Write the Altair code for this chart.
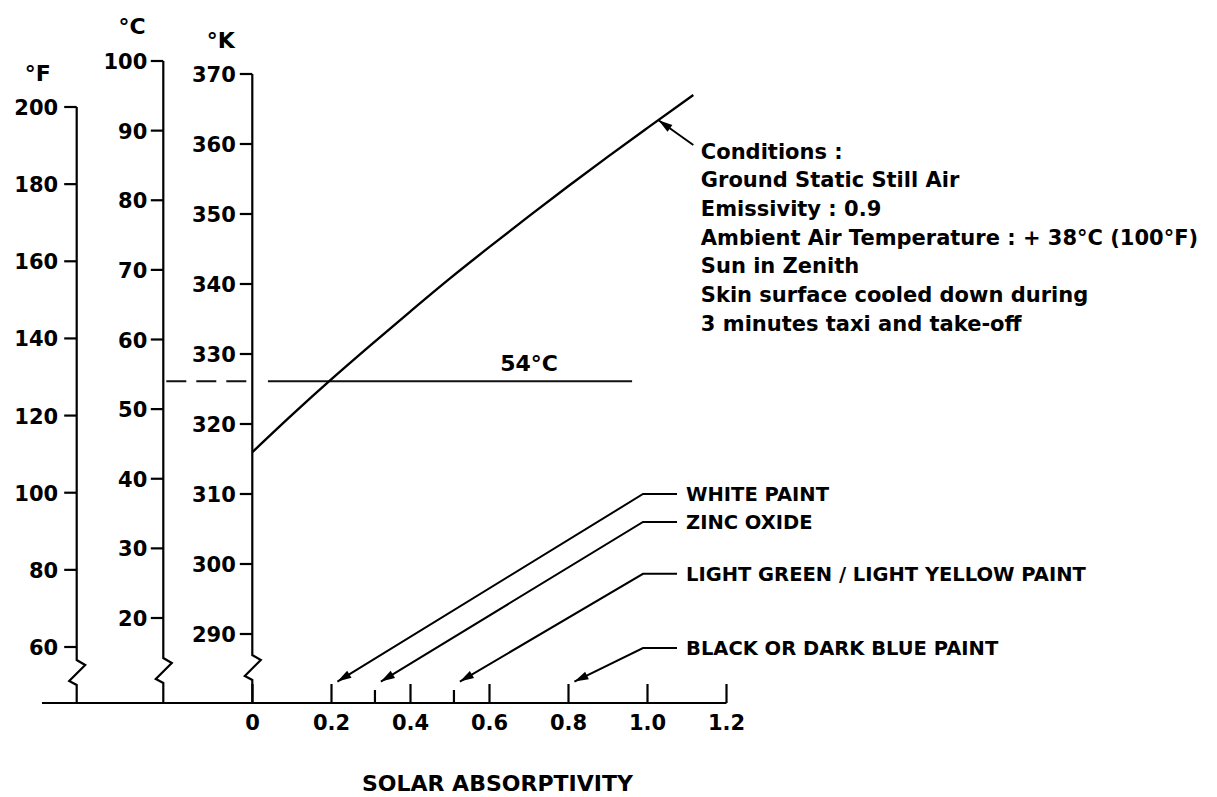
import math
import altair as alt
import pandas as pd

# ---------------- data ----------------
ABSORPTIVITY = [0.0, 0.1, 0.2, 0.3, 0.4, 0.5, 0.6, 0.7, 0.8, 0.9, 1.0, 1.116]
SKIN_TEMP_K = [316.0, 321.3, 326.4, 331.3, 336.1, 340.8, 345.3, 349.7, 354.0, 358.2, 362.3, 367.0]

F_TICKS = [60, 80, 100, 120, 140, 160, 180, 200]
C_TICKS = [20, 30, 40, 50, 60, 70, 80, 90, 100]
K_TICKS = [290, 300, 310, 320, 330, 340, 350, 360, 370]
X_TICKS = [0.0, 0.2, 0.4, 0.6, 0.8, 1.0, 1.2]
X_TICK_LABELS = ["0", "0.2", "0.4", "0.6", "0.8", "1.0", "1.2"]

LIMIT_C = 54
LIMIT_LABEL = "54°C"

PAINTS = ["WHITE PAINT", "ZINC OXIDE", "LIGHT GREEN / LIGHT YELLOW PAINT",
          "BLACK OR DARK BLUE PAINT"]
PAINT_ABSORPTIVITY = [0.20, 0.31, 0.51, 0.80]
MINOR_TICKS = [0.31, 0.51]

CONDITIONS = [
    "Conditions :",
    "Ground Static Still Air",
    "Emissivity : 0.9",
    "Ambient Air Temperature : + 38°C (100°F)",
    "Sun in Zenith",
    "Skin surface cooled down during",
    "3 minutes taxi and take-off",
]
X_TITLE = "SOLAR ABSORPTIVITY"

# ---------------- layout / style ----------------
W, H = 1200, 789
FONT = "DejaVu Sans"
X_DOM, X_RNG = [0, 1.2], [244.5, 718.5]
F_DOM, F_RNG = [60, 200], [639, 99]
C_DOM, C_RNG = [20, 100], [610, 53]
K_DOM, K_RNG = [290, 370], [626, 66]
BASE_PX = 695          # pixel row of the absorptivity axis line
X_PX = (X_RNG[1] - X_RNG[0]) / (X_DOM[1] - X_DOM[0])


def px_to_val(px, dom, rng):
    return dom[0] + (px - rng[0]) * (dom[1] - dom[0]) / (rng[1] - rng[0])


def px_per_unit(dom, rng):
    return abs((rng[1] - rng[0]) / (dom[1] - dom[0]))


XS = alt.Scale(domain=X_DOM, range=X_RNG, nice=False, zero=False)


def xq(field):
    return alt.X(field, type="quantitative", scale=XS, axis=None)


def temp_axis(ticks, dom, rng, ax_px, brk_px, title, title_dx, title_dy, label_dx):
    ys = alt.Scale(domain=dom, range=rng, nice=False, zero=False)
    ypx = px_per_unit(dom, rng)
    ax = (ax_px - X_RNG[0]) / X_PX
    top = ticks[-1]
    brk = px_to_val(brk_px, dom, rng)
    base = px_to_val(BASE_PX, dom, rng)
    zig = [(0, 0), (8.5, 5), (-7.5, 21), (0, 25)]
    rows = [{"i": 0, "x": ax, "y": top}]
    for k, (dx, dy) in enumerate(zig):
        rows.append({"i": k + 1, "x": ax + dx / X_PX, "y": brk - dy / ypx})
    rows.append({"i": len(rows), "x": ax, "y": base})
    line = alt.Chart(pd.DataFrame(rows)).mark_line(
        color="black", strokeWidth=2.2, strokeJoin="miter"
    ).encode(x=xq("x"), y=alt.Y("y:Q", scale=ys, axis=None), order="i:Q")

    tdf = pd.DataFrame({"v": ticks, "ax": [ax] * len(ticks),
                        "lab": [str(t) for t in ticks]})
    tick = alt.Chart(tdf).mark_rule(color="black", strokeWidth=2.2, x2Offset=-12.5).encode(
        x=xq("ax"), x2="ax:Q", y=alt.Y("v:Q", scale=ys, axis=None))
    labels = alt.Chart(tdf).mark_text(
        align="right", baseline="middle", dx=label_dx, dy=2, font=FONT,
        fontWeight="bold", fontSize=21, color="black"
    ).encode(x=xq("ax"), y=alt.Y("v:Q", scale=ys, axis=None), text="lab:N")
    ttl = alt.Chart(pd.DataFrame({"ax": [ax], "v": [top], "t": [title]})).mark_text(
        align="center", baseline="middle", dx=title_dx, dy=title_dy, font=FONT,
        fontWeight="bold", fontSize=22, color="black"
    ).encode(x=xq("ax"), y=alt.Y("v:Q", scale=ys, axis=None), text="t:N")
    return [line, tick, labels, ttl], ys, ax


ARROW = "M0,0L-2,-0.6L-2,0.6Z"


def screen_angle(x0, y0, x1, y1, ypx):
    """angle (deg, clockwise) of direction from point 0 to point 1 on screen"""
    dx = (x1 - x0) * X_PX
    dy = -(y1 - y0) * ypx
    return math.degrees(math.atan2(dy, dx)) % 360


# ---------------- °F group ----------------
f_layers, FS, F_AX = temp_axis(F_TICKS, F_DOM, F_RNG, 68.7, 652, "°F", -39, -33, -18.5)
f_group = alt.layer(*f_layers)

# ---------------- °C group ----------------
c_layers, CS, C_AX = temp_axis(C_TICKS, C_DOM, C_RNG, 155.3, 650, "°C", -31.3, -34.4, -16)
lim_df = pd.DataFrame({"x0": [0.039], "x1": [0.961], "y": [LIMIT_C]})
lim_dash_df = pd.DataFrame({"x0": [C_AX + 3 / X_PX], "x1": [-0.0114], "y": [LIMIT_C]})
lim_line = alt.Chart(lim_df).mark_rule(color="#111111", strokeWidth=2).encode(
    x=xq("x0"), x2="x1:Q", y=alt.Y("y:Q", scale=CS, axis=None))
lim_dash = alt.Chart(lim_dash_df).mark_rule(
    color="#111111", strokeWidth=2, strokeDash=[20, 10]).encode(
    x=xq("x0"), x2="x1:Q", y=alt.Y("y:Q", scale=CS, axis=None))
lim_text = alt.Chart(pd.DataFrame({"x": [0.70], "y": [LIMIT_C], "t": [LIMIT_LABEL]})).mark_text(
    align="center", baseline="alphabetic", dy=-10, font=FONT, fontWeight="bold",
    fontSize=22, color="black").encode(
    x=xq("x"), y=alt.Y("y:Q", scale=CS, axis=None), text="t:N")
c_group = alt.layer(*c_layers, lim_line, lim_dash, lim_text)

# ---------------- °K group (curve, absorptivity axis, annotations) ----------------
k_layers, KS, K_AX = temp_axis(K_TICKS, K_DOM, K_RNG, 244.3, 647, "°K", -31.5, -33.2, -16.5)
KPX = px_per_unit(K_DOM, K_RNG)

curve = alt.Chart(pd.DataFrame({"a": ABSORPTIVITY, "k": SKIN_TEMP_K})).mark_line(
    color="black", strokeWidth=2.4, interpolate="monotone").encode(
    x=xq("a"), y=alt.Y("k:Q", scale=KS, axis=None))

x_left = (34 - X_RNG[0]) / X_PX
xaxis_line = alt.Chart(pd.DataFrame({"x0": [x_left], "x1": [X_TICKS[-1]]})).mark_rule(
    color="black", strokeWidth=2.2).encode(x=xq("x0"), x2="x1:Q", y=alt.value(BASE_PX))
xt_df = pd.DataFrame({"x": X_TICKS, "lab": X_TICK_LABELS})
xticks = alt.Chart(xt_df).mark_rule(color="black", strokeWidth=2.2).encode(
    x=xq("x"), y=alt.value(BASE_PX), y2=alt.value(BASE_PX - 19))
xminor = alt.Chart(pd.DataFrame({"x": MINOR_TICKS})).mark_rule(color="black", strokeWidth=2.2).encode(
    x=xq("x"), y=alt.value(BASE_PX), y2=alt.value(BASE_PX - 13))
xlabels = alt.Chart(xt_df).mark_text(
    align="center", baseline="top", font=FONT, fontWeight="bold", fontSize=21,
    color="black").encode(x=xq("x"), y=alt.value(BASE_PX + 10), text="lab:N")
xtitle = alt.Chart(pd.DataFrame({"x": [0.62], "t": [X_TITLE]})).mark_text(
    align="center", baseline="top", font=FONT, fontWeight="bold", fontSize=22,
    color="black").encode(x=xq("x"), y=alt.value(766), text="t:N")

# paint annotations
ELBOW_X, END_X, LABEL_X = 0.9886, 1.0747, 1.0975
ROW_K = [310.0, 306.0, 298.6, 288.0]
TIP_K = 283.2
lead_rows, head_rows, lab_rows = [], [], []
for name, a, rk in zip(PAINTS, PAINT_ABSORPTIVITY, ROW_K):
    tx = a + 0.015
    lead_rows += [
        {"name": name, "i": 0, "x": tx, "y": TIP_K},
        {"name": name, "i": 1, "x": ELBOW_X, "y": rk},
        {"name": name, "i": 2, "x": END_X, "y": rk},
    ]
    head_rows.append({"x": tx, "y": TIP_K,
                      "ang": screen_angle(ELBOW_X, rk, tx, TIP_K, KPX)})
    lab_rows.append({"x": LABEL_X, "y": rk, "t": name})

leaders = alt.Chart(pd.DataFrame(lead_rows)).mark_line(
    color="black", strokeWidth=2, strokeJoin="miter").encode(
    x=xq("x"), y=alt.Y("y:Q", scale=KS, axis=None), detail="name:N", order="i:Q")

# conditions annotation arrow (points at the curve)
COND_TIP = (1.028, 363.4)
COND_TAIL = (1.116, 359.86)
cond_line = alt.Chart(pd.DataFrame({"x": [COND_TAIL[0], COND_TIP[0]],
                                    "y": [COND_TAIL[1], COND_TIP[1]], "i": [0, 1]})).mark_line(
    color="black", strokeWidth=2).encode(
    x=xq("x"), y=alt.Y("y:Q", scale=KS, axis=None), order="i:Q")
head_rows.append({"x": COND_TIP[0], "y": COND_TIP[1],
                  "ang": screen_angle(COND_TAIL[0], COND_TAIL[1], COND_TIP[0], COND_TIP[1], KPX)})

heads = alt.Chart(pd.DataFrame(head_rows)).mark_point(
    shape=ARROW, size=196, filled=True, color="black", opacity=1, strokeWidth=0).encode(
    x=xq("x"), y=alt.Y("y:Q", scale=KS, axis=None), angle=alt.Angle("ang:Q", scale=None))

paint_labels = alt.Chart(pd.DataFrame(lab_rows)).mark_text(
    align="left", baseline="middle", dy=1, font=FONT, fontWeight="bold",
    fontSize=19.5, color="black").encode(
    x=xq("x"), y=alt.Y("y:Q", scale=KS, axis=None), text="t:N")

cond_text = alt.Chart(pd.DataFrame({"x": [1.135], "y": [360.34]})).mark_text(
    text=CONDITIONS, align="left", baseline="top", lineHeight=28.7, font=FONT,
    fontWeight="bold", fontSize=21, color="black").encode(
    x=xq("x"), y=alt.Y("y:Q", scale=KS, axis=None))

k_group = alt.layer(*k_layers, curve, xaxis_line, xticks, xminor, xlabels, xtitle,
                    leaders, cond_line, heads, paint_labels, cond_text)

chart = alt.layer(f_group, c_group, k_group).resolve_scale(y="independent").properties(
    width=W, height=H, padding=0,
    autosize=alt.AutoSizeParams(type="none"),
    background="white",
).configure_view(stroke=None)

chart.save("out.html", embed_options={"renderer": "svg", "actions": False})
